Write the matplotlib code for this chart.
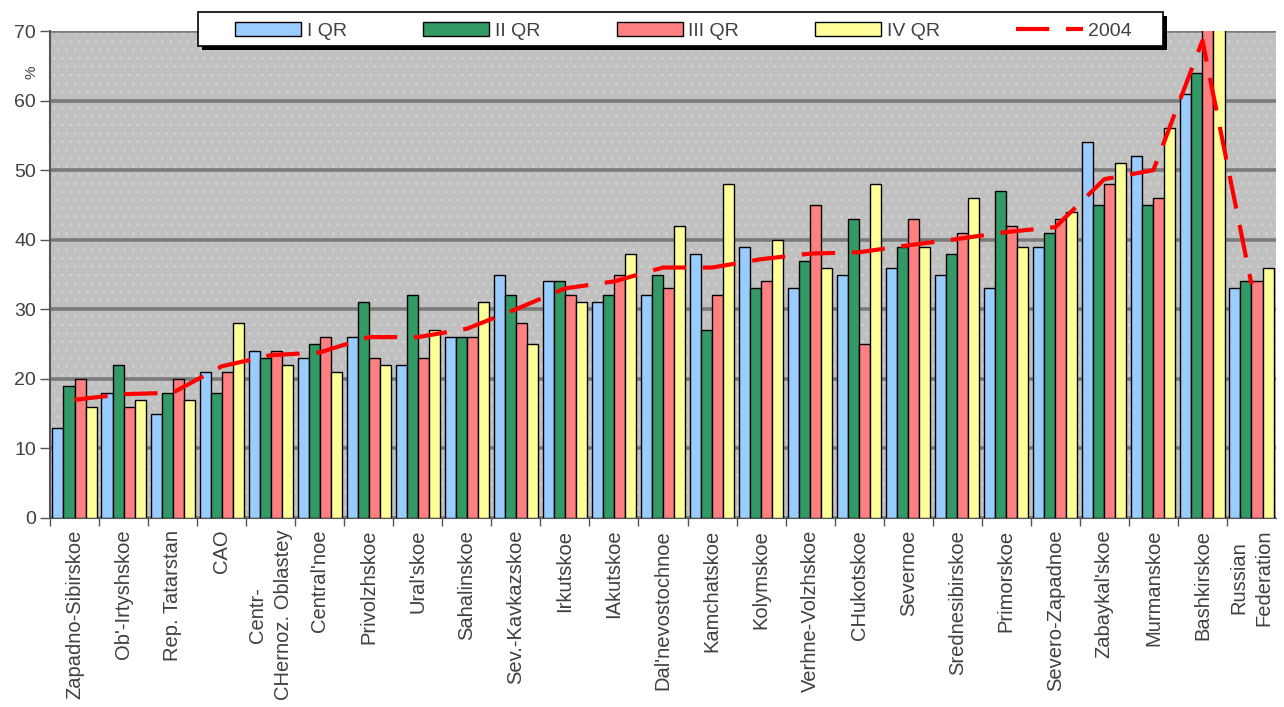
import numpy as np
import matplotlib
matplotlib.use('Agg')
import matplotlib.pyplot as plt
from matplotlib.patches import Rectangle
from matplotlib.lines import Line2D

plt.rcParams['font.family'] = ['Liberation Sans', 'DejaVu Sans']
plt.rcParams['hatch.linewidth'] = 1.0

regions = ['Zapadno-Sibirskoe', "Ob'-Irtyshskoe", 'Rep. Tatarstan', 'CAO',
           'Centr-\nCHernoz. Oblastey', "Central'noe", 'Privolzhskoe', "Ural'skoe",
           'Sahalinskoe', 'Sev.-Kavkazskoe', 'Irkutskoe', 'IAkutskoe',
           "Dal'nevostochnoe", 'Kamchatskoe', 'Kolymskoe', 'Verhne-Volzhskoe',
           'CHukotskoe', 'Severnoe', 'Srednesibirskoe', 'Primorskoe',
           'Severo-Zapadnoe', "Zabaykal'skoe", 'Murmanskoe', 'Bashkirskoe',
           'Russian\nFederation']

q1 = [13, 18, 15, 21, 24, 23, 26, 22, 26, 35, 34, 31, 32, 38, 39, 33, 35, 36, 35, 33, 39, 54, 52, 61, 33]
q2 = [19, 22, 18, 18, 23, 25, 31, 32, 26, 32, 34, 32, 35, 27, 33, 37, 43, 39, 38, 47, 41, 45, 45, 64, 34]
q3 = [20, 16, 20, 21, 24, 26, 23, 23, 26, 28, 32, 35, 33, 32, 34, 45, 25, 43, 41, 42, 43, 48, 46, 74, 34]
q4 = [16, 17, 17, 28, 22, 21, 22, 27, 31, 25, 31, 38, 42, 48, 40, 36, 48, 39, 46, 39, 44, 51, 56, 73, 36]
y2004 = [17, 17.8, 18, 21.8, 23.4, 23.8, 26, 26, 27.2, 30, 33, 34, 36, 36, 37.2, 38,
         38.2, 39.2, 40.1, 41.1, 41.8, 48.7, 50, 68.6, 33.6]

series = [('I QR', q1, '#99ccff'), ('II QR', q2, '#339966'),
          ('III QR', q3, '#ff8080'), ('IV QR', q4, '#ffff99')]

txt = '#404040'
W, H = 1284, 707

fig = plt.figure(figsize=(W / 100, H / 100), dpi=100)
ax = fig.add_axes([50 / W, 1 - 518 / H, 1226 / W, 487 / H])

# grey plot area with a faint dot texture
ax.set_facecolor('#c0c0c0')
ax.add_patch(Rectangle((0, 0), 1, 1, transform=ax.transAxes, facecolor='none',
                       edgecolor='#cfcfcf', hatch='..', lw=0, zorder=0.1))

x = np.arange(len(regions))
w = 0.225
for i, (name, vals, col) in enumerate(series):
    ax.bar(x + (i - 1.5) * w, vals, width=w, color=col, edgecolor='black',
           linewidth=1.0, zorder=3)

ax.plot(x, y2004, color='#ff0000', lw=3, dashes=(8, 4), zorder=4)

ax.set_xlim(-0.5, len(regions) - 0.5)
ax.set_ylim(0, 70)
ax.set_yticks(range(0, 71, 10))
ax.yaxis.grid(True, color='#7a7a7a', lw=2.6, zorder=1)
ax.set_axisbelow(True)

ax.set_xticks(x - 0.5)
ax.set_xticklabels([])
ax.tick_params(axis='x', length=6, color='#555555', width=1)
ax.tick_params(axis='y', length=7, color='#555555', width=1, labelsize=14,
               labelcolor=txt, pad=3)
for k, r in enumerate(regions):
    ax.text(k, -1.7, r, rotation=90, ha='center', va='top', fontsize=14.5,
            color=txt, multialignment='center', linespacing=1.45)

for s in ['top', 'right']:
    ax.spines[s].set_visible(False)
ax.spines['left'].set_color('#555555')
ax.spines['left'].set_linewidth(1.5)
ax.spines['bottom'].set_color('#555555')

fig.text(31 / W, 1 - 72 / H, '%', rotation=90, ha='center', va='center',
         fontsize=11, color=txt)

# legend box with a hard black shadow
bx0, by0, bx1, by1 = 198, 12, 1163, 46
fig.add_artist(Rectangle(((bx0 + 4) / W, 1 - (by1 + 4) / H), (bx1 - bx0) / W,
                         (by1 - by0) / H, transform=fig.transFigure,
                         facecolor='black', edgecolor='none', zorder=9))
fig.add_artist(Rectangle((bx0 / W, 1 - by1 / H), (bx1 - bx0) / W,
                         (by1 - by0) / H, transform=fig.transFigure,
                         facecolor='white', edgecolor='black', lw=1.2, zorder=9.5))

handles = [Rectangle((0, 0), 1, 1, facecolor=c, edgecolor='black', lw=1.0)
           for _, _, c in series]
handles.append(Line2D([], [], color='#ff0000', lw=3, dashes=(8, 4)))
labels = [s[0] for s in series] + ['2004']
leg = fig.legend(handles, labels, ncol=5, mode='expand',
                 bbox_to_anchor=(235 / W, 1 - (by1 + 2) / H, 897 / W, (by1 - by0) / H),
                 loc='center left', fontsize=14, frameon=False,
                 handlelength=3.4, handleheight=0.72, handletextpad=0.3,
                 borderaxespad=0, borderpad=0)
for t in leg.get_texts():
    t.set_color(txt)
leg.set_zorder(10)

fig.savefig('out.png', dpi=100)
